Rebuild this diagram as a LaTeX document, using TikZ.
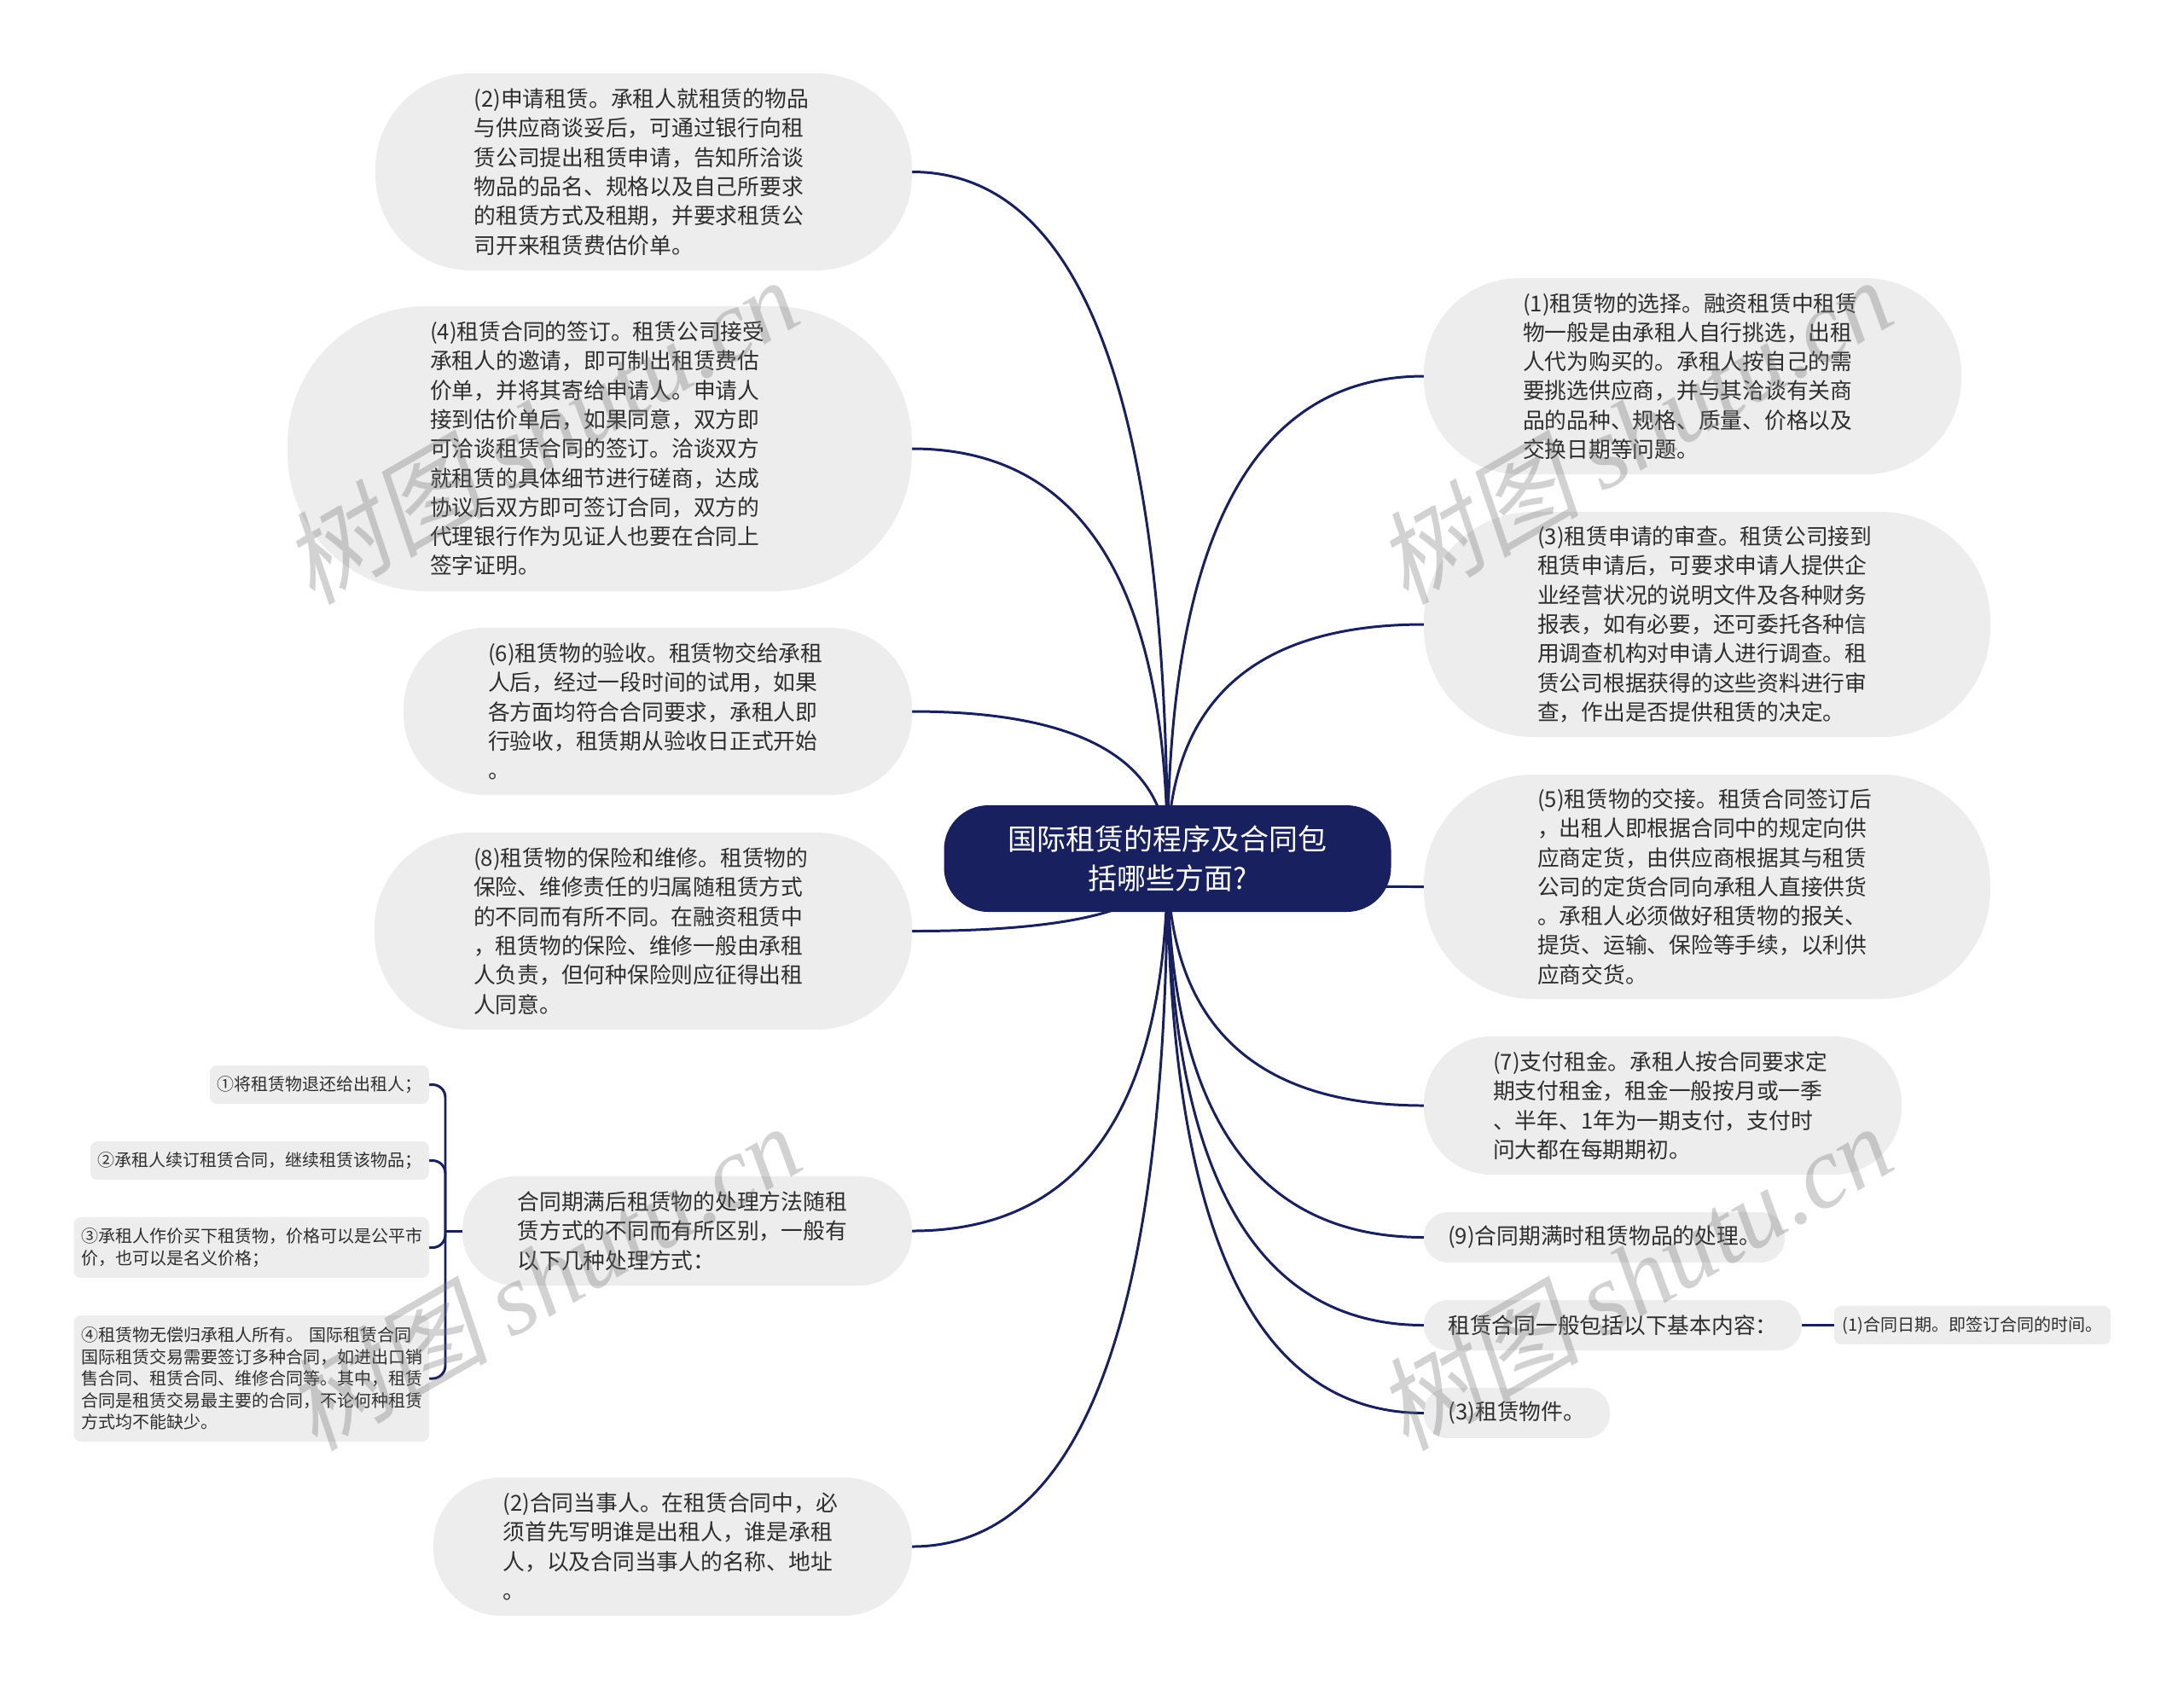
\documentclass[tikz,border=0pt]{standalone}
\usepackage{fontspec}
\setmainfont{Noto Sans CJK SC}
\newfontfamily\wmcjk[FakeSlant=0.2]{Noto Sans CJK SC}
\newfontfamily\wmlatin{Liberation Serif}
\usetikzlibrary{positioning,calc,backgrounds}
\definecolor{navy}{HTML}{18205F}
\definecolor{leafgray}{HTML}{EDEDED}
\definecolor{inkgray}{HTML}{2E2E2E}

\begin{document}
\begin{tikzpicture}[node distance=0.44cm and 0.38cm,
    rootnode/.style={rectangle, fill=navy, text=white, rounded corners=0.52cm, minimum width=5.24cm, minimum height=1.25cm, inner sep=0pt, align=center, font=\fontsize{9.68}{13.3}\selectfont},
    leaf/.style n args={3}{rectangle, fill=leafgray, text=inkgray, rounded corners=#3cm, minimum width=#1cm, minimum height=#2cm, inner sep=0pt, outer sep=0pt, align=left, font=\fontsize{7.33}{9.76}\selectfont},
    wide/.style={text width=3.98cm},
    small/.style={font=\fontsize{5.69}{7.23}\selectfont},
    link/.style={draw=navy, line width=0.85pt},
    stamp/.style={text=black!55, opacity=0.32, rotate=30, inner sep=0pt, font=\fontsize{34}{34}\selectfont}]

\useasboundingbox (0,0) rectangle (25.6,-19.79);

\node[rootnode] (root) at (13.685,-10.065) {国际租赁的程序及合同包\\括哪些方面?};

\node[leaf={6.29}{2.31}{1.12}, wide, anchor=north east] (apply) at (10.69,-0.86) {(2)申请租赁。承租人就租赁的物品\\与供应商谈妥后，可通过银行向租\\赁公司提出租赁申请，告知所洽谈\\物品的品名、规格以及自己所要求\\的租赁方式及租期，并要求租赁公\\司开来租赁费估价单。};
\node[leaf={7.32}{3.34}{1.62}, wide, below=0.42cm of apply.south east, anchor=north east] (sign) {(4)租赁合同的签订。租赁公司接受\\承租人的邀请，即可制出租赁费估\\价单，并将其寄给申请人。申请人\\接到估价单后，如果同意，双方即\\可洽谈租赁合同的签订。洽谈双方\\就租赁的具体细节进行磋商，达成\\协议后双方即可签订合同，双方的\\代理银行作为见证人也要在合同上\\签字证明。};
\node[leaf={5.96}{1.96}{0.95}, wide, below=0.43cm of sign.south east, anchor=north east] (accept) {(6)租赁物的验收。租赁物交给承租\\人后，经过一段时间的试用，如果\\各方面均符合合同要求，承租人即\\行验收，租赁期从验收日正式开始\\。};
\node[leaf={6.30}{2.31}{1.12}, wide, below=of accept.south east, anchor=north east] (insure) {(8)租赁物的保险和维修。租赁物的\\保险、维修责任的归属随租赁方式\\的不同而有所不同。在融资租赁中\\，租赁物的保险、维修一般由承租\\人负责，但何种保险则应征得出租\\人同意。};
\node[leaf={5.27}{1.28}{0.62}, wide, below=1.72cm of insure.south east, anchor=north east] (expiry) {合同期满后租赁物的处理方法随租\\赁方式的不同而有所区别，一般有\\以下几种处理方式：};
\node[leaf={5.61}{1.62}{0.79}, wide, below=2.25cm of expiry.south east, anchor=north east] (parties) {(2)合同当事人。在租赁合同中，必\\须首先写明谁是出租人，谁是承租\\人，以及合同当事人的名称、地址\\。};

\node[leaf={2.57}{0.45}{0.08}, small, anchor=north east] (opt1) at (5.03,-12.49) {①将租赁物退还给出租人；};
\node[leaf={3.97}{0.45}{0.08}, small, below=of opt1.south east, anchor=north east] (opt2) {②承租人续订租赁合同，继续租赁该物品；};
\node[leaf={4.165}{0.71}{0.08}, small, wide, below=of opt2.south east, anchor=north east] (opt3) {③承租人作价买下租赁物，价格可以是公平市\\价，也可以是名义价格；};
\node[leaf={4.165}{1.48}{0.08}, small, wide, below=of opt3.south east, anchor=north east] (opt4) {④租赁物无偿归承租人所有。 国际租赁合同\\国际租赁交易需要签订多种合同，如进出口销\\售合同、租赁合同、维修合同等。其中，租赁\\合同是租赁交易最主要的合同，不论何种租赁\\方式均不能缺少。};

\node[leaf={6.30}{2.30}{1.12}, wide, anchor=north west] (choose) at (16.69,-3.26) {(1)租赁物的选择。融资租赁中租赁\\物一般是由承租人自行挑选，出租\\人代为购买的。承租人按自己的需\\要挑选供应商，并与其洽谈有关商\\品的品种、规格、质量、价格以及\\交换日期等问题。};
\node[leaf={6.64}{2.64}{1.28}, wide, below=of choose.south west, anchor=north west] (review) {(3)租赁申请的审查。租赁公司接到\\租赁申请后，可要求申请人提供企\\业经营状况的说明文件及各种财务\\报表，如有必要，还可委托各种信\\用调查机构对申请人进行调查。租\\赁公司根据获得的这些资料进行审\\查，作出是否提供租赁的决定。};
\node[leaf={6.64}{2.63}{1.28}, wide, below=of review.south west, anchor=north west] (deliver) {(5)租赁物的交接。租赁合同签订后\\，出租人即根据合同中的规定向供\\应商定货，由供应商根据其与租赁\\公司的定货合同向承租人直接供货\\。承租人必须做好租赁物的报关、\\提货、运输、保险等手续，以利供\\应商交货。};
\node[leaf={5.60}{1.62}{0.79}, wide, below=of deliver.south west, anchor=north west] (pay) {(7)支付租金。承租人按合同要求定\\期支付租金，租金一般按月或一季\\、半年、1年为一期支付，支付时\\问大都在每期期初。};
\node[leaf={4.23}{0.59}{0.28}, below=of pay.south west, anchor=north west] (dispose) {(9)合同期满时租赁物品的处理。};
\node[leaf={4.43}{0.59}{0.28}, below=of dispose.south west, anchor=north west] (basics) {租赁合同一般包括以下基本内容：};
\node[leaf={3.24}{0.45}{0.08}, small, right=of basics] (date) {(1)合同日期。即签订合同的时间。};
\node[leaf={2.18}{0.59}{0.28}, below=of basics.south west, anchor=north west] (item) {(3)租赁物件。};

\begin{pgfonlayer}{background}
\foreach \leafname in {apply,sign,accept,insure,expiry,parties}
    \draw[link] (root.center) .. controls ($(root.center)!2/3!(root.center |- \leafname.east)$) and ($(\leafname.east)!2/3!(root.center |- \leafname.east)$) .. (\leafname.east);
\foreach \leafname in {choose,review,deliver,pay,dispose,basics,item}
    \draw[link] (root.center) .. controls ($(root.center)!2/3!(root.center |- \leafname.west)$) and ($(\leafname.west)!2/3!(root.center |- \leafname.west)$) .. (\leafname.west);
\draw[link] (expiry.west) -- ++(-0.2,0) coordinate (fork);
\foreach \optname in {opt1,opt2,opt3,opt4}
    \draw[link, rounded corners=0.15cm] (fork) |- (\optname.east);
\draw[link] (basics) -- (date);
\end{pgfonlayer}

\foreach \wmname/\wmx/\wmy in {wma/6.33/-5.04, wmb/19.15/-5.04, wmc/6.36/-14.96, wmd/19.15/-14.96}
    \node[stamp] (\wmname) at (\wmx,\wmy) {{\wmcjk 树图} {\wmlatin\itshape shutu.cn}};
\end{tikzpicture}
\end{document}
